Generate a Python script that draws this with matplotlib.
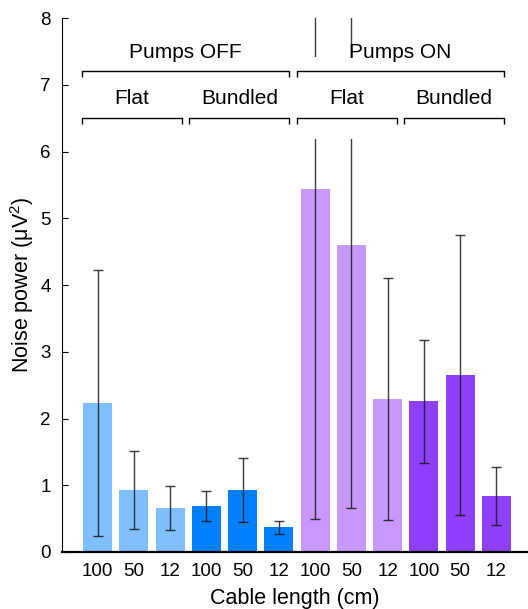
import matplotlib
matplotlib.use('Agg')
import matplotlib.pyplot as plt
from matplotlib.patches import Rectangle

plt.rcParams['font.family'] = ['Liberation Sans', 'DejaVu Sans']
plt.rcParams['mathtext.fontset'] = 'custom'
plt.rcParams['mathtext.rm'] = 'Liberation Sans'
plt.rcParams['mathtext.it'] = 'Liberation Sans:italic'

# ---- data ----
cable_lengths = ['100', '50', '12', '100', '50', '12', '100', '50', '12', '100', '50', '12']
noise_power = [2.23, 0.93, 0.66, 0.69, 0.93, 0.37, 5.44, 4.60, 2.29, 2.26, 2.65, 0.84]
noise_err = [1.99, 0.59, 0.33, 0.23, 0.48, 0.10, 4.95, 3.94, 1.81, 0.92, 2.10, 0.44]
pump_labels = ['Pumps OFF', 'Pumps ON']
layout_labels = ['Flat', 'Bundled', 'Flat', 'Bundled']
group_colors = ['#80BFFF', '#0080FF', '#C799FF', '#8F3FFF']
yticks = [0, 1, 2, 3, 4, 5, 6, 7, 8]

fig = plt.figure(figsize=(5.28, 6.09), dpi=100)
ax = fig.add_axes([0.1174, 0.0936, 0.8826, 0.8768])

x = list(range(len(noise_power)))
colors = [group_colors[i // 3] for i in x]
ax.bar(x, noise_power, width=0.8, color=colors, zorder=1)
ax.errorbar(x, noise_power, yerr=noise_err, fmt='none', ecolor='#1a1a1a',
            elinewidth=1.0, capsize=3.4, capthick=1.0, alpha=0.85, zorder=2)

ax.set_xlim(-0.98, 11.87)
ax.set_ylim(0, 8)
ax.set_yticks(yticks)
ax.set_yticklabels([str(t) for t in yticks])
ax.set_xticks(x)
ax.set_xticklabels(cable_lengths)
ax.tick_params(axis='x', length=0, pad=8, labelsize=13.5)
ax.tick_params(axis='y', direction='in', length=4, width=0.8, pad=8, labelsize=13.5)
ax.spines['top'].set_visible(False)
ax.spines['right'].set_visible(False)
ax.spines['left'].set_linewidth(0.8)
ax.spines['bottom'].set_linewidth(1.6)
ax.spines['left'].set_zorder(6)
ax.spines['bottom'].set_zorder(6)

ax.set_xlabel('Cable length (cm)', fontsize=15.5, labelpad=6)
ax.set_ylabel('Noise power (μV$^2$)', fontsize=15.5, labelpad=3)

# white band behind the annotation brackets
ax.add_patch(Rectangle((-0.6, 6.19), 12.6, 1.22, facecolor='white',
                       edgecolor='none', zorder=3))

# brackets
pitch = 2.96
x0 = -0.43
span = 2.76
tick = 0.09
lw = 1.0
for g, lab in enumerate(layout_labels):
    s = x0 + g * pitch
    e = s + span
    yb = 6.50
    ax.plot([s, s, e, e], [yb - tick, yb, yb, yb - tick], color='black', lw=lw,
            zorder=4, solid_capstyle='butt')
    ax.text((s + e) / 2, 6.80, lab, ha='center', va='center', fontsize=15, zorder=5)

for g, lab in enumerate(pump_labels):
    s = x0 + 2 * g * pitch
    e = s + pitch + span
    yb = 7.20
    ax.plot([s, s, e, e], [yb - tick, yb, yb, yb - tick], color='black', lw=lw,
            zorder=4, solid_capstyle='butt')
    ax.text((s + e) / 2, 7.49, lab, ha='center', va='center', fontsize=15, zorder=5)

fig.savefig('out.png', dpi=100)
